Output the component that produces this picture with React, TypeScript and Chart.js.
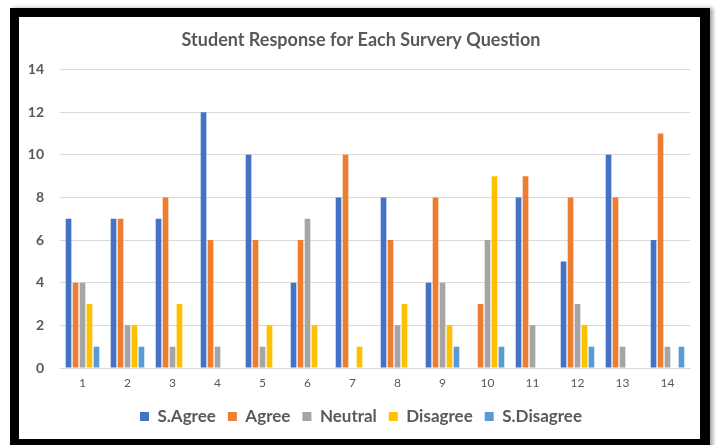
import React, { useEffect, useRef } from "react";
import { Chart, registerables } from "chart.js";

Chart.register(...registerables);

const categories = ["1", "2", "3", "4", "5", "6", "7", "8", "9", "10", "11", "12", "13", "14"];
const seriesNames = ["S.Agree", "Agree", "Neutral", "Disagree", "S.Disagree"];
const sAgree = [7, 7, 7, 12, 10, 4, 8, 8, 4, 0, 8, 5, 10, 6];
const agree = [4, 7, 8, 6, 6, 6, 10, 6, 8, 3, 9, 8, 8, 11];
const neutral = [4, 2, 1, 1, 1, 7, 0, 2, 4, 6, 2, 3, 1, 1];
const disagree = [3, 2, 3, 0, 2, 2, 1, 3, 2, 9, 0, 2, 0, 0];
const sDisagree = [1, 1, 0, 0, 0, 0, 0, 0, 1, 1, 0, 1, 0, 1];
const colors = ["#4472C4", "#ED7D31", "#A5A5A5", "#FFC000", "#5B9BD5"];
const titleText = "Student Response for Each Survery Question";

const FONT = "Lato, 'Open Sans', sans-serif";
const TEXT = "#595959";

export default function App() {
  const ref = useRef<HTMLCanvasElement | null>(null);

  useEffect(() => {
    if (!ref.current) return;
    const values = [sAgree, agree, neutral, disagree, sDisagree];
    const chart = new Chart(ref.current, {
      type: "bar",
      data: {
        labels: categories,
        datasets: seriesNames.map((name, i) => ({
          label: name,
          data: values[i],
          backgroundColor: colors[i],
          borderWidth: 0,
          categoryPercentage: 0.776,
          barPercentage: 0.81,
          yAxisID: "y",
        })),
      },
      options: {
        animation: false,
        responsive: false,
        devicePixelRatio: 1,
        layout: { padding: { top: 0, bottom: 4, left: 0, right: 0 } },
        plugins: {
          title: {
            display: true,
            text: titleText,
            color: TEXT,
            font: { family: FONT, size: 18, weight: "bold" },
            padding: { top: 12, bottom: 19 },
          },
          legend: {
            position: "bottom",
            labels: {
              color: TEXT,
              font: { family: FONT, size: 17, weight: "bold" },
              boxWidth: 9,
              boxHeight: 9,
              padding: 12,
            },
          },
          tooltip: { enabled: false },
        },
        scales: {
          x: {
            grid: { display: false, drawTicks: false },
            border: { display: true, color: "#D9D9D9", width: 1 },
            ticks: { color: TEXT, font: { family: FONT, size: 12 }, padding: 8 },
            afterFit: (s: any) => {
              s.height = 28;
            },
          },
          y: {
            position: "left",
            min: 0,
            max: 14,
            grid: { color: "#D9D9D9", lineWidth: 1, drawTicks: false },
            border: { display: false },
            ticks: {
              stepSize: 2,
              color: TEXT,
              font: { family: FONT, size: 14, weight: "bold" },
              padding: 16,
            },
            afterFit: (s: any) => {
              s.width = 41;
            },
          },
          yRight: {
            position: "right",
            display: true,
            grid: { display: false, drawTicks: false },
            border: { display: false },
            ticks: { display: false },
            afterFit: (s: any) => {
              s.width = 13;
            },
          },
        },
      },
    });
    return () => chart.destroy();
  }, []);

  return (
    <div
      style={{
        position: "fixed",
        left: 0,
        top: 0,
        width: 716,
        height: 445,
        background: "#FFFFFF",
        overflow: "hidden",
      }}
    >
      <div
        style={{
          position: "absolute",
          left: 10,
          top: 8,
          width: 700,
          height: 460,
          background: "#000000",
          boxShadow: "3px 0 4px rgba(0,0,0,0.35)",
        }}
      />
      <div
        style={{
          position: "absolute",
          left: 19,
          top: 17,
          width: 681,
          height: 422,
          background: "#FFFFFF",
        }}
      />
      <canvas
        ref={ref}
        width={684}
        height={422}
        style={{ position: "absolute", left: 19, top: 17, width: 684, height: 422 }}
      />
    </div>
  );
}
